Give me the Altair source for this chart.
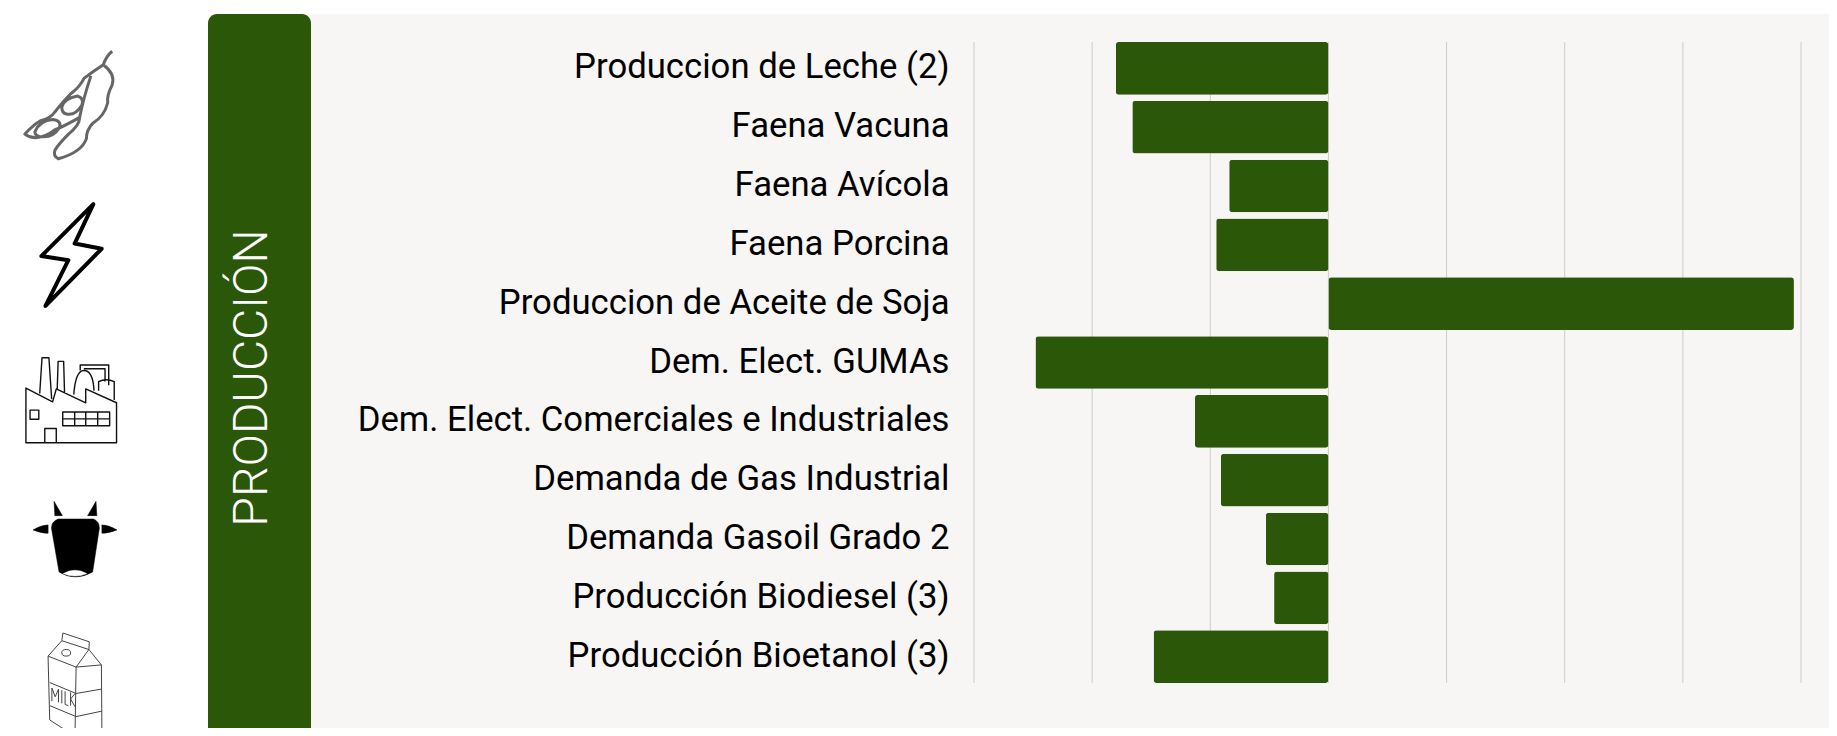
import re
import altair as alt
import pandas as pd

categories = [
    "Produccion de Leche (2)", "Faena Vacuna", "Faena Avícola", "Faena Porcina",
    "Produccion de Aceite de Soja", "Dem. Elect. GUMAs\u00a0",
    "Dem. Elect. Comerciales e Industriales", "Demanda de Gas Industrial",
    "Demanda Gasoil Grado 2", "Producción Biodiesel (3)", "Producción Bioetanol (3)",
]
values = [-18.0, -16.6, -8.4, -9.5, 39.4, -24.8, -11.3, -9.1, -5.3, -4.6, -14.8]
ticks = [-30, -20, -10, 0, 10, 20, 30, 40]
panel_title = "PRODUCCIÓN"

GREEN = "#2A5708"
PANEL = "#F7F6F4"
FONT = "Roboto"
OX, OY = 974, 42      # window position of the plot origin
W, H = 827, 641


def unit(path):
    """Map a path drawn in a 0-100 box to the -1..1 box Vega expects."""
    return re.sub(r"-?\d+(\.\d+)?", lambda m: f"{(float(m.group()) - 50) / 50:.3f}", path)


def oval(cx, cy, rx, ry):
    return (f"M{cx-rx} {cy} Q{cx-rx} {cy-ry} {cx} {cy-ry} Q{cx+rx} {cy-ry} {cx+rx} {cy} "
            f"Q{cx+rx} {cy+ry} {cx} {cy+ry} Q{cx-rx} {cy+ry} {cx-rx} {cy} Z ")


soy = ("M89 2 Q84 6 81 14 Q92 22 89 32 Q84 42 85 48 Q82 60 72 66 Q66 72 66 80 Q62 92 41 98 "
       "Q36 96 38 90 Q42 84 50 76 Q60 68 60 61 Q44 70 38 72 Q22 84 11 76 Q18 68 25 64 "
       "Q34 62 38 56 Q46 46 52 40 Q60 34 64 26 Q72 20 81 14 M60 61 Q63 45 70 24 ")
soy += "M20 74 Q24 64 36 63 Q44 64 42 70 Q36 80 24 78 Q20 77 20 74 Z "
soy += "M44 52 Q46 44 58 42 Q64 44 62 50 Q56 60 48 58 Q44 57 44 52 Z"

bolt = "M71 1 L53 39 L79 44 L25 99 L47 55 L21 51 Z"

factory = ("M1 37 L30 52 L34 38 L66 53 L66 38 L99.5 53 L99.5 96.5 L1 96.5 Z "
           "M16 43 L18.5 4 L26 4 L29 49 M35 39 L36 8 L42 8 L43 43 "
           "M5.5 61 L15 61 L15 71 L5.5 71 Z M21.5 96 L21.5 81 L34 81 L34 96 "
           "M41 63 L92 63 L92 78 L41 78 Z M41 70.5 L92 70.5 M54 63 L54 78 M66 63 L66 78 M79 63 L79 78 "
           "M53 44 Q55 18 64 18 Q74 18 75 40 M80 40 L80 30 Q88 26 97 30 L97 50 "
           "M60 18 L60 12 L91 12 L91 34 M64 16 L87 16 L87 30")

cow = ("M30 25 L72 25 Q79 28 79 36 L71 88 Q50 100 31 88 L22 36 Q22 28 30 25 Z "
       "M25 4 L35 21 L26 21 Z M75 4 L76 21 L65 21 Z "
       "M0 38 Q10 32 18 32 L18 42 Q10 42 0 38 Z M100 38 Q90 32 82 32 L82 42 Q90 42 100 38 Z")
cow_nose = "M36 90 Q50 82 64 90 Q50 96 36 90 Z"

milk = ("M39 0 L63 8 L62.6 15 L38 7 Z M25.5 21 L51 31 L50 94 L27 79 Z M51 31 L74 29 L74.5 94 "
        "M25.5 21 L38 7 M62.6 15 L74 29 M51 31 L62.6 15 M27 45 L51 55 L74 51 M27 66 L51 76 L74.5 71 "
        + oval(42, 18, 4, 3) +
        "M29 62 L29 50 L32 58 L35 51 L35 63 M38 52 L38 64 M41 53 L41 65 L44 66 "
        "M46 54 L46 66 M50 55 L46 60 L50 67")

icons = [
    (68.5, 105, 112, soy, "none", "#666666", 3),
    (71.5, 255, 104, bolt, "none", "#000000", 4),
    (71, 400, 92, factory, "none", "#111111", 1.4),
    (75, 540, 84, cow, "#000000", "#000000", 0.5),
    (75, 540, 84, cow_nose, "#FFFFFF", "#FFFFFF", 0.5),
    (75, 688, 110, milk, "none", "#444444", 1),
]

df = pd.DataFrame({"cat": categories, "val": values})
one = pd.DataFrame({"a": [0]})

x_scale = alt.Scale(domain=[-30, 40], nice=False, zero=False)
y_scale = alt.Scale(domain=categories, paddingInner=0.104, paddingOuter=0)

panel = alt.Chart(one).mark_rect(color=PANEL).encode(
    x=alt.value(311 - OX), x2=alt.value(1845 - OX),
    y=alt.value(14 - OY), y2=alt.value(740 - OY),
)
band = alt.Chart(one).mark_bar(
    color=GREEN, cornerRadiusTopLeft=9, cornerRadiusTopRight=9
).encode(
    x=alt.value(208 - OX), x2=alt.value(311 - OX),
    y=alt.value(14 - OY), y2=alt.value(740 - OY),
)
label = alt.Chart(one).mark_text(
    text=panel_title, angle=270, color="#FFFFFF", font=FONT, fontSize=48, fontWeight=300,
    align="center", baseline="middle",
).encode(x=alt.value(253 - OX), y=alt.value(378 - OY))

grid = alt.Chart(pd.DataFrame({"t": ticks})).mark_rule(color="#CCCCCA", strokeWidth=1).encode(
    x=alt.X("t:Q", scale=x_scale, axis=None)
)

bars = alt.Chart(df).mark_bar(color=GREEN, cornerRadius=3).encode(
    x=alt.X(
        "val:Q", scale=x_scale, title=None,
        axis=alt.Axis(
            values=ticks, grid=False, domain=False, ticks=False, zindex=1,
            labelExpr="replace(format(datum.value, '.1f'), '.', ',')",
            labelFont=FONT, labelFontSize=34.7, labelColor="#000000", labelPadding=11,
            labelFlush=False, labelOverlap=False, labelBound=False,
            labelOffset={"condition": {"test": "datum.value === 40", "value": -5}, "value": 0},
        ),
    ),
    y=alt.Y(
        "cat:N", scale=y_scale, sort=categories, title=None,
        axis=alt.Axis(
            grid=False, domain=False, ticks=False, zindex=1,
            labelFont=FONT, labelFontSize=34.7, labelColor="#000000", labelPadding=25,
            labelLimit=1000,
        ),
    ),
)

icon_layers = [
    alt.Chart(one).mark_point(
        shape=unit(p), size=s * s, fill=f, stroke=c, strokeWidth=w,
        strokeJoin="round", opacity=1, fillOpacity=1, strokeOpacity=1,
    ).encode(x=alt.value(cx - OX), y=alt.value(cy - OY))
    for cx, cy, s, p, f, c, w in icons
]

chart = alt.layer(panel, band, label, grid, bars, *icon_layers).properties(
    width=W, height=H,
    autosize=alt.AutoSizeParams(type="none"),
    padding={"left": OX - 8, "top": OY - 8, "right": 1821 - (OX - 8) - W, "bottom": 720 - (OY - 8) - H},
    background="#FFFFFF",
).configure_view(stroke=None)

chart.save("out.html", embed_options={"renderer": "svg", "actions": False})
